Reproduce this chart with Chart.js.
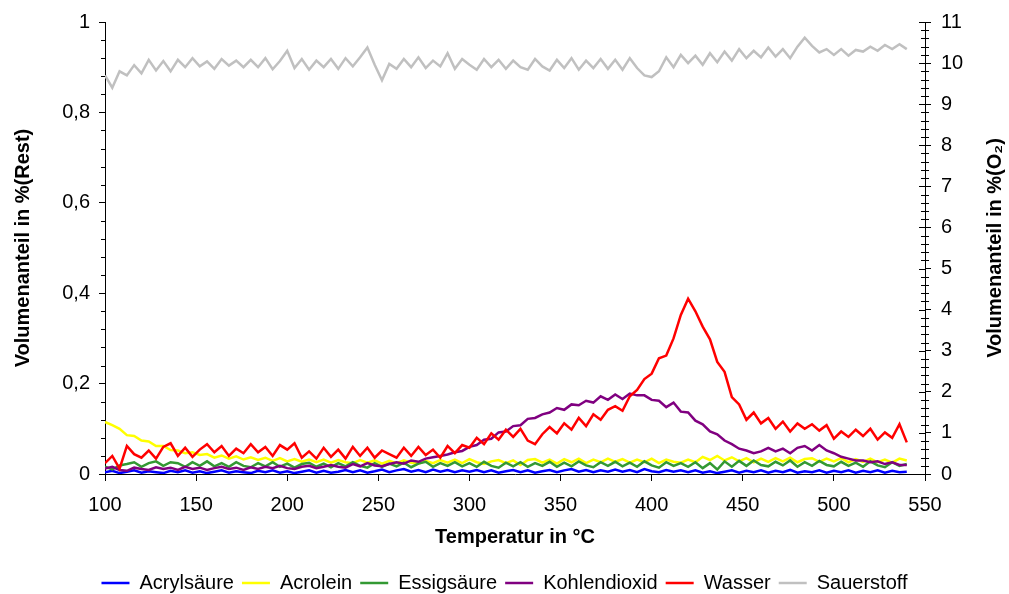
<!DOCTYPE html>
<html>
<head>
<meta charset="utf-8">
<script src="https://cdn.jsdelivr.net/npm/chart.js@4.4.1/dist/chart.umd.min.js"></script>
<style>
html,body{margin:0;padding:0;background:#fff;}
#wrap{width:1009px;height:594px;position:relative;}
</style>
</head>
<body>
<div id="wrap"><canvas id="c" width="1009" height="594"></canvas></div>
<script>
const temps = [
100,104,108,112,116,120,124,128,132,136,
140,144,148,152,156,160,164,168,172,176,
180,184,188,192,196,200,204,208,212,216,
220,224,228,232,236,240,244,248,252,256,
260,264,268,272,276,280,284,288,292,296,
300,304,308,312,316,320,324,328,332,336,
340,344,348,352,356,360,364,368,372,376,
380,384,388,392,396,400,404,408,412,416,
420,424,428,432,436,440,444,448,452,456,
460,464,468,472,476,480,484,488,492,496,
500,504,508,512,516,520,524,528,532,536,
540];

const acrylsaeure = [
0.004,0.007,0.002,0.005,0.008,0.003,0.006,0.004,0.002,0.007,
0.004,0.008,0.003,0.006,0.002,0.005,0.008,0.003,0.006,0.004,
0.002,0.007,0.004,0.008,0.003,0.006,0.002,0.005,0.008,0.003,
0.007,0.003,0.005,0.009,0.004,0.008,0.003,0.006,0.010,0.004,
0.008,0.011,0.005,0.009,0.004,0.010,0.005,0.009,0.004,0.008,
0.005,0.009,0.004,0.008,0.003,0.006,0.009,0.004,0.008,0.003,
0.006,0.009,0.004,0.008,0.011,0.005,0.009,0.004,0.008,0.005,
0.010,0.005,0.009,0.004,0.011,0.006,0.004,0.009,0.005,0.008,
0.004,0.008,0.003,0.006,0.002,0.005,0.008,0.003,0.007,0.004,
0.008,0.003,0.007,0.004,0.009,0.003,0.006,0.004,0.008,0.003,
0.007,0.004,0.008,0.003,0.007,0.004,0.008,0.003,0.007,0.004,
0.005];

const acrolein = [
0.115,0.108,0.100,0.086,0.084,0.074,0.072,0.062,0.062,0.053,
0.052,0.046,0.048,0.042,0.044,0.036,0.041,0.034,0.039,0.032,
0.037,0.031,0.036,0.029,0.035,0.028,0.033,0.027,0.032,0.026,
0.032,0.025,0.031,0.026,0.024,0.031,0.025,0.030,0.023,0.029,
0.024,0.030,0.025,0.023,0.029,0.024,0.031,0.025,0.032,0.024,
0.033,0.026,0.022,0.028,0.031,0.024,0.030,0.020,0.031,0.033,
0.025,0.032,0.023,0.033,0.026,0.034,0.024,0.032,0.026,0.034,
0.027,0.033,0.025,0.032,0.026,0.034,0.024,0.032,0.027,0.025,
0.032,0.026,0.038,0.031,0.040,0.030,0.037,0.028,0.035,0.026,
0.034,0.027,0.035,0.028,0.036,0.026,0.033,0.035,0.027,0.034,
0.028,0.035,0.026,0.033,0.027,0.034,0.026,0.032,0.025,0.034,
0.030];

const essigsaeure = [
0.016,0.010,0.019,0.022,0.026,0.016,0.024,0.028,0.018,0.026,
0.024,0.016,0.026,0.018,0.028,0.017,0.024,0.016,0.026,0.018,
0.015,0.024,0.017,0.026,0.016,0.023,0.014,0.022,0.025,0.016,
0.023,0.015,0.024,0.017,0.026,0.018,0.014,0.024,0.016,0.023,
0.017,0.025,0.015,0.023,0.027,0.016,0.024,0.018,0.026,0.017,
0.024,0.016,0.027,0.018,0.014,0.025,0.017,0.026,0.016,0.024,
0.018,0.027,0.016,0.025,0.017,0.028,0.019,0.015,0.026,0.018,
0.027,0.017,0.025,0.016,0.028,0.019,0.014,0.026,0.018,0.024,
0.016,0.026,0.013,0.024,0.010,0.028,0.016,0.029,0.018,0.030,
0.020,0.017,0.027,0.019,0.030,0.016,0.026,0.018,0.029,0.020,
0.017,0.027,0.018,0.025,0.016,0.028,0.019,0.015,0.026,0.018,
0.022];

const kohlendioxid = [
0.012,0.016,0.009,0.007,0.014,0.011,0.009,0.015,0.011,0.014,
0.009,0.016,0.011,0.014,0.009,0.013,0.016,0.011,0.014,0.009,
0.015,0.011,0.016,0.013,0.018,0.013,0.011,0.016,0.018,0.013,
0.016,0.020,0.016,0.014,0.022,0.017,0.024,0.019,0.017,0.022,
0.026,0.023,0.030,0.027,0.034,0.037,0.040,0.043,0.048,0.051,
0.060,0.064,0.076,0.078,0.092,0.094,0.106,0.108,0.122,0.124,
0.132,0.136,0.146,0.142,0.154,0.152,0.162,0.158,0.172,0.164,
0.176,0.166,0.178,0.174,0.174,0.164,0.162,0.148,0.158,0.138,
0.136,0.118,0.110,0.094,0.088,0.074,0.066,0.056,0.052,0.046,
0.050,0.058,0.050,0.056,0.046,0.058,0.062,0.052,0.064,0.052,
0.046,0.038,0.034,0.030,0.030,0.026,0.028,0.022,0.026,0.020,
0.020];

const wasser = [
0.024,0.040,0.012,0.062,0.044,0.036,0.052,0.034,0.060,0.068,
0.040,0.058,0.038,0.054,0.066,0.048,0.062,0.040,0.056,0.046,
0.066,0.048,0.060,0.040,0.064,0.054,0.068,0.036,0.050,0.034,
0.058,0.038,0.054,0.034,0.060,0.040,0.058,0.036,0.052,0.044,
0.036,0.058,0.040,0.060,0.042,0.054,0.036,0.062,0.046,0.064,
0.058,0.080,0.066,0.090,0.076,0.098,0.082,0.100,0.074,0.066,
0.088,0.104,0.090,0.112,0.098,0.124,0.106,0.132,0.120,0.142,
0.150,0.140,0.172,0.186,0.210,0.222,0.256,0.262,0.300,0.352,
0.388,0.360,0.326,0.298,0.248,0.226,0.170,0.154,0.120,0.136,
0.112,0.124,0.100,0.116,0.094,0.112,0.100,0.110,0.096,0.108,
0.078,0.094,0.082,0.098,0.084,0.100,0.076,0.092,0.080,0.110,
0.070];

const sauerstoff = [
9.70,9.40,9.80,9.70,9.95,9.75,10.08,9.82,10.05,9.80,
10.08,9.90,10.12,9.92,10.04,9.86,10.10,9.94,10.06,9.90,
10.08,9.90,10.12,9.85,10.05,10.30,9.88,10.10,9.84,10.06,
9.90,10.10,9.86,10.12,9.92,10.14,10.38,9.96,9.58,9.98,
9.86,10.10,9.90,10.14,9.88,10.06,9.92,10.24,9.86,10.10,
9.96,9.84,10.10,9.90,10.08,9.86,10.06,9.90,9.84,10.10,
9.92,9.82,10.08,9.88,10.12,9.84,10.06,9.88,10.10,9.86,
10.08,9.84,10.12,9.88,9.70,9.66,9.80,10.14,9.90,10.20,
10.00,10.18,9.96,10.24,10.02,10.28,10.06,10.34,10.12,10.30,
10.14,10.38,10.16,10.34,10.12,10.40,10.62,10.42,10.26,10.34,
10.20,10.34,10.18,10.32,10.28,10.40,10.30,10.44,10.34,10.46,
10.34];

const seriesNames = ['Acrylsäure','Acrolein','Essigsäure','Kohlendioxid','Wasser','Sauerstoff'];
const seriesColors = ['#0000FF','#FFFF00','#339933','#800080','#FF0000','#C0C0C0'];
const seriesValues = [acrylsaeure, acrolein, essigsaeure, kohlendioxid, wasser, sauerstoff];
const xTicks = [100,150,200,250,300,350,400,450,500,550];
const leftTitle = 'Volumenanteil in %(Rest)';
const rightTitle = 'Volumenanteil in %(O\u2082)';
const xTitle = 'Temperatur in °C';

const FONT = "'Liberation Sans', Arial, sans-serif";

const datasets = seriesValues.map((vals, i) => ({
  label: seriesNames[i],
  data: temps.map((t, j) => ({x: t, y: vals[j]})),
  borderColor: seriesColors[i],
  backgroundColor: seriesColors[i],
  borderWidth: 2.5,
  pointRadius: 0,
  tension: 0,
  fill: false,
  yAxisID: i === 5 ? 'y2' : 'y',
  order: 6 - i
}));

const minorTicks = {
  id: 'minorTicks',
  afterDraw(chart) {
    const ctx = chart.ctx;
    const y = chart.scales.y, y2 = chart.scales.y2;
    ctx.save();
    ctx.strokeStyle = '#000';
    ctx.lineWidth = 1;
    ctx.beginPath();
    for (let k = 0; k <= 25; k++) {
      if (k % 5 === 0) continue;
      const py = Math.round(y.getPixelForValue(k * 0.04)) + 0.5;
      ctx.moveTo(y.right - 4, py); ctx.lineTo(y.right, py);
    }
    for (let k = 0; k <= 55; k++) {
      const py = Math.round(y2.getPixelForValue(k * 0.2)) + 0.5;
      if (k % 5 === 0) { ctx.moveTo(y2.left - 6, py); ctx.lineTo(y2.left, py); }
      else { ctx.moveTo(y2.left - 4, py); ctx.lineTo(y2.left + 4, py); }
    }
    ctx.stroke();
    const ca = chart.chartArea;
    ctx.translate(995, (ca.top + ca.bottom) / 2);
    ctx.rotate(-Math.PI / 2);
    ctx.fillStyle = '#000';
    ctx.font = "bold 20px " + FONT;
    ctx.textAlign = 'center';
    ctx.textBaseline = 'middle';
    ctx.fillText(rightTitle, 0, 0);
    ctx.restore();
  }
};

const legendShift = {
  id: 'legendShift',
  afterLayout(chart) {
    if (chart.legend) { chart.legend.top += 9; chart.legend.bottom += 9; }
  }
};

const fmt = v => {
  const r = Math.round(v * 10) / 10;
  return String(r).replace('.', ',');
};

new Chart(document.getElementById('c'), {
  type: 'line',
  data: { datasets },
  plugins: [minorTicks, legendShift],
  options: {
    responsive: false,
    animation: false,
    events: [],
    layout: { padding: { top: 8, left: 0, right: 0, bottom: 0 } },
    plugins: {
      tooltip: { enabled: false },
      legend: {
        position: 'bottom',
        labels: {
          usePointStyle: true,
          pointStyle: 'line',
          pointStyleWidth: 28,
          color: '#000',
          padding: 8,
          font: { family: FONT, size: 20 },
          sort: (a, b) => a.datasetIndex - b.datasetIndex
        }
      }
    },
    scales: {
      x: {
        type: 'linear',
        min: 100, max: 550,
        afterBuildTicks: s => { s.ticks = xTicks.map(v => ({value: v})); },
        afterFit: s => { s.height = 82; },
        grid: { drawOnChartArea: false, drawTicks: true, tickLength: 7, color: '#000', tickColor: '#000' },
        border: { display: true, color: '#000', width: 1 },
        ticks: { color: '#000', font: { family: FONT, size: 20 }, padding: 12, maxRotation: 0, autoSkip: false },
        title: { display: true, text: xTitle, color: '#000', font: { family: FONT, size: 20, weight: 'bold' }, padding: { top: 0, bottom: 7 } }
      },
      y: {
        type: 'linear', position: 'left',
        min: 0, max: 1,
        ticks: { stepSize: 0.2, color: '#000', font: { family: FONT, size: 20 }, padding: 9, callback: v => fmt(v) },
        afterFit: s => { s.width = 105; },
        grid: { drawOnChartArea: false, drawTicks: true, tickLength: 6, color: '#000', tickColor: '#000' },
        border: { display: true, color: '#000', width: 1 },
        title: { display: true, text: leftTitle, color: '#000', font: { family: FONT, size: 20, weight: 'bold' }, padding: { top: 11, bottom: 0 } }
      },
      y2: {
        type: 'linear', position: 'right',
        min: 0, max: 11,
        ticks: { stepSize: 1, color: '#000', font: { family: FONT, size: 20 }, padding: 10, callback: v => String(Math.round(v)) },
        afterFit: s => { s.width = 84; },
        grid: { drawOnChartArea: false, drawTicks: true, tickLength: 6, color: '#000', tickColor: '#000' },
        border: { display: true, color: '#000', width: 1 },
        title: { display: false }
      }
    }
  }
});
</script>
</body>
</html>
